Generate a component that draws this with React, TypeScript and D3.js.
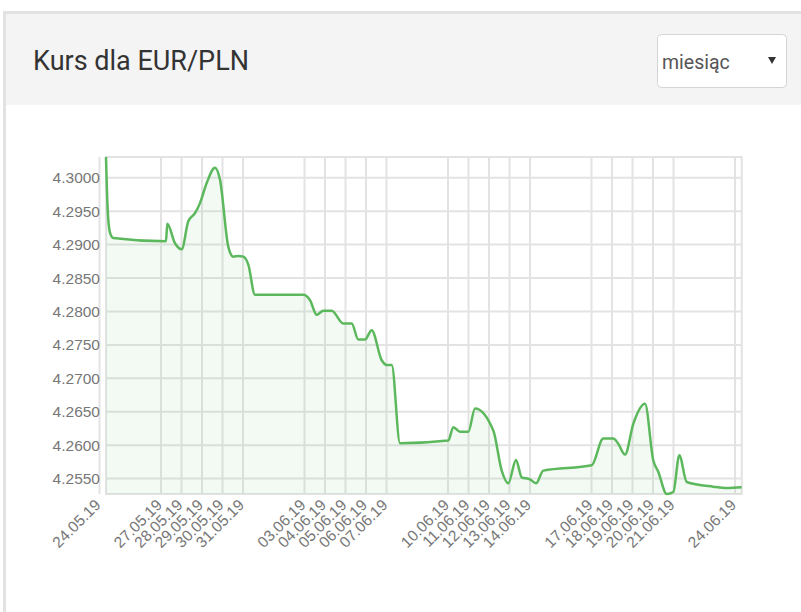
import React from "react";
import * as d3 from "d3";

const times: string[] = [
  "2019-05-24 07:37", "2019-05-24 09:36", "2019-05-24 12:17", "2019-05-24 16:09",
  "2019-05-27 05:51", "2019-05-27 07:22", "2019-05-27 16:24", "2019-05-28 00:14",
  "2019-05-28 07:58", "2019-05-28 15:49", "2019-05-28 21:39", "2019-05-29 05:30",
  "2019-05-29 15:13", "2019-05-29 21:04", "2019-05-30 06:47", "2019-05-30 12:38",
  "2019-05-30 18:30", "2019-05-31 00:21", "2019-05-31 06:13", "2019-05-31 14:02",
  "2019-06-02 22:35", "2019-06-03 06:26", "2019-06-03 14:17", "2019-06-03 22:00",
  "2019-06-04 07:50", "2019-06-04 21:26", "2019-06-05 07:15", "2019-06-05 14:59",
  "2019-06-05 22:49", "2019-06-06 06:40", "2019-06-06 18:23", "2019-06-07 00:14",
  "2019-06-07 06:06", "2019-06-07 15:49", "2019-06-10 00:22", "2019-06-10 06:13",
  "2019-06-10 14:02", "2019-06-10 23:46", "2019-06-11 07:37", "2019-06-12 05:02",
  "2019-06-12 14:53", "2019-06-12 22:35", "2019-06-13 07:36", "2019-06-13 14:17",
  "2019-06-14 00:00", "2019-06-14 07:02", "2019-06-14 15:35", "2019-06-17 00:14",
  "2019-06-17 13:49", "2019-06-18 01:31", "2019-06-18 07:22", "2019-06-18 15:13",
  "2019-06-19 00:56", "2019-06-19 14:38", "2019-06-20 00:22", "2019-06-20 06:13",
  "2019-06-20 16:02", "2019-06-20 23:46", "2019-06-21 06:47", "2019-06-21 15:27",
  "2019-06-22 22:35", "2019-06-23 14:17", "2019-06-24 07:50",
];

const rates: number[] = [
  4.3031, 4.2952, 4.2918, 4.2910,
  4.2905, 4.2931, 4.2902, 4.2893,
  4.2935, 4.2947, 4.2962, 4.2992,
  4.3015, 4.2997, 4.2897, 4.2882,
  4.2883, 4.2882, 4.2870, 4.2825,
  4.2825, 4.2817, 4.2795, 4.2801,
  4.2801, 4.2782, 4.2782, 4.2758,
  4.2758, 4.2772, 4.2727, 4.2720,
  4.2720, 4.2603, 4.2607, 4.2627,
  4.2620, 4.2620, 4.2655, 4.2622,
  4.2562, 4.2543, 4.2578, 4.2552,
  4.2549, 4.2543, 4.2562, 4.2570,
  4.2610, 4.2610, 4.2602, 4.2586,
  4.2632, 4.2662, 4.2577, 4.2560,
  4.2527, 4.2530, 4.2585, 4.2545,
  4.2538, 4.2536, 4.2537,
];

const tickDates: string[] = [
  "2019-05-24", "2019-05-27", "2019-05-28", "2019-05-29", "2019-05-30", "2019-05-31",
  "2019-06-03", "2019-06-04", "2019-06-05", "2019-06-06", "2019-06-07",
  "2019-06-10", "2019-06-11", "2019-06-12", "2019-06-13", "2019-06-14",
  "2019-06-17", "2019-06-18", "2019-06-19", "2019-06-20", "2019-06-21",
  "2019-06-24",
];

const yTicks: number[] = [4.255, 4.26, 4.265, 4.27, 4.275, 4.28, 4.285, 4.29, 4.295, 4.3];

const title = "Kurs dla EUR/PLN";
const periodLabel = "miesiąc";

const W = 801;
const H = 612;
const plot = { left: 106, right: 741.7, top: 157, bottom: 494 };

export default function App() {
  const parseT = d3.timeParse("%Y-%m-%d %H:%M");
  const parseD = d3.timeParse("%Y-%m-%d");
  const fmtD = d3.timeFormat("%d.%m.%y");
  const fmtY = d3.format(".4f");

  const data = times.map((t, i) => ({ t: parseT(t) as Date, v: rates[i] }));

  const x = d3
    .scaleTime()
    .domain(d3.extent(data, (d) => d.t) as [Date, Date])
    .range([plot.left, plot.right]);
  const y = d3
    .scaleLinear()
    .domain(d3.extent(data, (d) => d.v) as [number, number])
    .range([plot.bottom, plot.top]);

  const line = d3
    .line<{ t: Date; v: number }>()
    .x((d) => x(d.t))
    .y((d) => y(d.v))
    .curve(d3.curveMonotoneX);
  const area = d3
    .area<{ t: Date; v: number }>()
    .x((d) => x(d.t))
    .y0(plot.bottom)
    .y1((d) => y(d.v))
    .curve(d3.curveMonotoneX);

  const ticks = tickDates.map((s) => parseD(s) as Date);
  const grid = "#e3e3e3";
  const labelColor = "#777777";
  const labelFont = "'Liberation Sans', Arial, sans-serif";

  return (
    <div style={{ position: "absolute", left: 0, top: 0 }}>
      <svg width={W} height={H} style={{ display: "block" }}>
        <rect x={0} y={0} width={W} height={H} fill="#ffffff" />
        {/* card */}
        <rect x={3} y={11} width={W - 3} height={H - 11} fill="#e2e2e2" />
        <rect x={6} y={14} width={W - 6} height={H - 14} fill="#ffffff" />
        <rect x={6} y={14} width={W - 6} height={91} fill="#f4f4f4" />
        <text
          x={33}
          y={70}
          fontFamily="Roboto, sans-serif"
          fontSize={27}
          fill="#333333"
        >
          {title}
        </text>
        {/* select */}
        <rect
          x={657.5}
          y={34.5}
          width={129}
          height={53}
          rx={4}
          fill="#ffffff"
          stroke="#d4d4d4"
        />
        <text x={662} y={69} fontFamily="Roboto, sans-serif" fontSize={19.5} fill="#555555">
          {periodLabel}
        </text>
        <path d="M768,57 L776,57 L772,64 Z" fill="#333333" />

        {/* grid */}
        <g>
          {yTicks.map((v) => (
            <line
              key={"gy" + v}
              x1={plot.left}
              x2={plot.right}
              y1={y(v)}
              y2={y(v)}
              stroke={grid}
              strokeWidth={2}
            />
          ))}
          {ticks.map((d, i) => (
            <line
              key={"gx" + i}
              x1={x(d)}
              x2={x(d)}
              y1={plot.top}
              y2={plot.bottom}
              stroke={grid}
              strokeWidth={2}
            />
          ))}
          <rect
            x={plot.left}
            y={plot.top}
            width={plot.right - plot.left}
            height={plot.bottom - plot.top}
            fill="none"
            stroke={grid}
            strokeWidth={2}
          />
        </g>

        <path d={area(data) || ""} fill="rgba(92,184,92,0.07)" />
        <path
          d={line(data) || ""}
          fill="none"
          stroke="#5cb85c"
          strokeWidth={2.5}
          strokeLinejoin="round"
        />

        {/* y labels */}
        {yTicks.map((v) => (
          <text
            key={"ly" + v}
            x={100}
            y={y(v)}
            dy="0.36em"
            textAnchor="end"
            fontFamily={labelFont}
            fontSize={15.5}
            fill={labelColor}
          >
            {fmtY(v)}
          </text>
        ))}

        {/* x labels */}
        {ticks.map((d, i) => {
          const px = x(d) + 2;
          const py = 506;
          return (
            <text
              key={"lx" + i}
              x={px}
              y={py}
              textAnchor="end"
              transform={`rotate(-45, ${px}, ${py})`}
              fontFamily={labelFont}
              fontSize={15.5}
              fill={labelColor}
            >
              {fmtD(d)}
            </text>
          );
        })}
      </svg>
    </div>
  );
}
